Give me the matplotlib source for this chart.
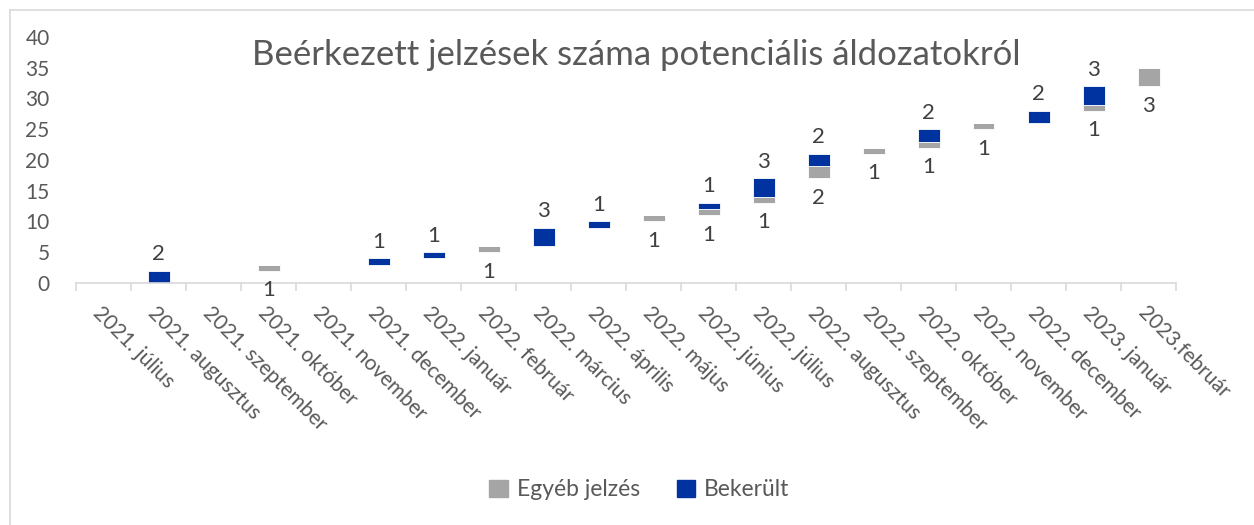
import numpy as np
import matplotlib
matplotlib.use("Agg")
import matplotlib.pyplot as plt
from matplotlib.patches import Patch
from matplotlib.lines import Line2D

months = ["2021. július", "2021. augusztus", "2021. szeptember", "2021. október",
          "2021. november", "2021. december", "2022. január", "2022. február",
          "2022. március", "2022. április", "2022. május", "2022. június",
          "2022. július", "2022. augusztus", "2022. szeptember", "2022. október",
          "2022. november", "2022. december", "2023. január", "2023.február"]
egyeb = np.array([0, 0, 0, 1, 0, 0, 0, 1, 0, 0, 1, 1, 1, 2, 1, 1, 1, 0, 1, 3])
bekerult = np.array([0, 2, 0, 0, 0, 1, 1, 0, 3, 1, 0, 1, 3, 2, 0, 2, 0, 2, 3, 0])
y_ticks = [0, 5, 10, 15, 20, 25, 30, 35, 40]

GRAY = "#A5A5A5"
BLUE = "#0033A0"
TXT = "#595959"
LBL = "#404040"

plt.rcParams["font.family"] = ["Lato", "DejaVu Sans"]

# invisible base = running total of earlier months
base = np.concatenate([[0], np.cumsum(egyeb + bekerult)[:-1]])

fig = plt.figure(figsize=(12.54, 5.25), dpi=100)
ax = fig.add_axes([76 / 1254, 1 - 283 / 525, 1100 / 1254, 246 / 525])

x = np.arange(len(months))
ax.bar(x, egyeb, 0.4, bottom=base, color=GRAY, edgecolor="white", linewidth=0.6)
ax.bar(x, bekerult, 0.4, bottom=base + egyeb, color=BLUE, edgecolor="white", linewidth=0.6)

for i in x:
    if egyeb[i]:
        ax.annotate(str(egyeb[i]), (i, base[i]), xytext=(0, -14), textcoords="offset points",
                    ha="center", va="center", fontsize=16, color=LBL)
    if bekerult[i]:
        ax.annotate(str(bekerult[i]), (i, base[i] + egyeb[i] + bekerult[i]), xytext=(0, 12),
                    textcoords="offset points", ha="center", va="center", fontsize=16, color=LBL)

ax.set_xlim(-0.5, len(months) - 0.5)
ax.set_ylim(0, 40)
ax.set_yticks(y_ticks)
ax.tick_params(axis="y", length=0, pad=19, labelsize=15, labelcolor=TXT)

# tick marks between categories, labels at centres
ax.set_xticks(np.arange(len(months) + 1) - 0.5)
ax.set_xticklabels([])
ax.tick_params(axis="x", which="major", length=6, color="#D9D9D9", width=1.2)
ax.set_xticks(x, minor=True)
ax.set_xticklabels(months, minor=True, rotation=-45, ha="left", va="top",
                   rotation_mode="anchor", fontsize=15, color=TXT)
ax.tick_params(axis="x", which="minor", length=0, pad=14)

for s in ["top", "right", "left"]:
    ax.spines[s].set_visible(False)
ax.spines["bottom"].set_color("#D9D9D9")
ax.spines["bottom"].set_linewidth(1.2)

fig.text(0.507, 1 - 55 / 525, "Beérkezett jelzések száma potenciális áldozatokról",
         ha="center", va="center", fontsize=25, color=TXT)

handles = [Patch(color=GRAY, label="Egyéb jelzés"), Patch(color=BLUE, label="Bekerült")]
fig.legend(handles=handles, loc="center", bbox_to_anchor=(0.51, 1 - 490 / 525), ncol=2,
           frameon=False, fontsize=16.5, labelcolor=TXT, handlelength=0.8, handleheight=0.8,
           handletextpad=0.4, columnspacing=1.6)

# light outer frame (left and top edges visible)
fig.add_artist(Line2D([10 / 1254, 10 / 1254], [0, 1 - 10 / 525], transform=fig.transFigure,
                      color="#D9D9D9", linewidth=1.2))
fig.add_artist(Line2D([10 / 1254, 1], [1 - 10 / 525, 1 - 10 / 525], transform=fig.transFigure,
                      color="#D9D9D9", linewidth=1.2))

fig.savefig("out.png", dpi=100)
